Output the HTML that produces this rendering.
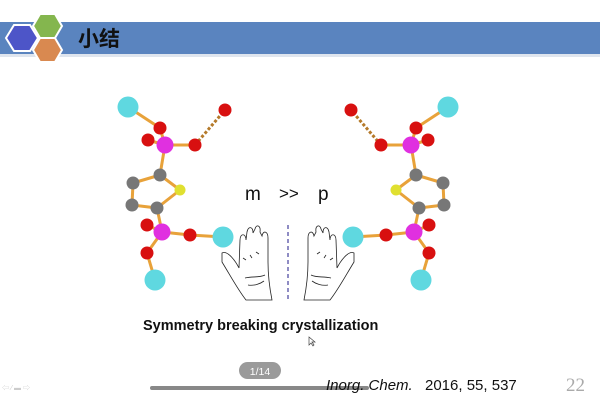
<!DOCTYPE html>
<html><head><meta charset="utf-8"><style>
body{margin:0;width:600px;height:400px;background:#fff;overflow:hidden;font-family:"Liberation Sans","Noto Sans CJK SC",sans-serif}
</style></head><body>
<svg width="600" height="400" viewBox="0 0 600 400" xmlns="http://www.w3.org/2000/svg">
<rect x="0" y="22" width="600" height="32" fill="#5a84bf"/>
<rect x="0" y="54" width="600" height="3" fill="#dfe5ee"/>
<polygon points="6,38 14,25 30,25 38,38 30,51 14,51" fill="#4d55c8" stroke="#fff" stroke-width="2"/>
<polygon points="33,26 40,14 55,14 62,26 55,38 40,38" fill="#84b64e" stroke="#fff" stroke-width="2"/>
<polygon points="33,50 40,38 55,38 62,50 55,62 40,62" fill="#d98950" stroke="#fff" stroke-width="2"/>
<text x="78" y="46" font-size="21" font-weight="bold" fill="#111" font-family="Liberation Sans,Noto Sans CJK SC,sans-serif">小结</text>

<g id="mol" stroke="#e8a23a" stroke-width="3" fill="none">
<line x1="128" y1="107" x2="160" y2="128"/><line x1="160" y1="128" x2="165" y2="145"/><line x1="148" y1="140" x2="165" y2="145"/><line x1="165" y1="145" x2="195" y2="145"/>
<line x1="195" y1="145" x2="225" y2="110" stroke-dasharray="3,2" stroke="#b57a2a"/>
<line x1="165" y1="145" x2="160" y2="175"/><line x1="160" y1="175" x2="133" y2="183"/><line x1="160" y1="175" x2="180" y2="190"/><line x1="133" y1="183" x2="132" y2="205"/><line x1="132" y1="205" x2="157" y2="208"/><line x1="180" y1="190" x2="157" y2="208"/>
<line x1="157" y1="208" x2="162" y2="232"/><line x1="147" y1="225" x2="162" y2="232"/><line x1="162" y1="232" x2="190" y2="235"/><line x1="190" y1="235" x2="223" y2="237"/><line x1="162" y1="232" x2="147" y2="253"/><line x1="147" y1="253" x2="155" y2="280"/>
</g>
<g id="atoms">
<circle cx="128" cy="107" r="10.5" fill="#5fd8e0"/>
<circle cx="160" cy="128" r="6.5" fill="#d81010"/><circle cx="148" cy="140" r="6.5" fill="#d81010"/>
<circle cx="165" cy="145" r="8.5" fill="#e030e0"/><circle cx="195" cy="145" r="6.5" fill="#d81010"/><circle cx="225" cy="110" r="6.5" fill="#d81010"/>
<circle cx="160" cy="175" r="6.5" fill="#777"/><circle cx="133" cy="183" r="6.5" fill="#777"/><circle cx="180" cy="190" r="5.5" fill="#e0e030"/><circle cx="132" cy="205" r="6.5" fill="#777"/><circle cx="157" cy="208" r="6.5" fill="#777"/>
<circle cx="147" cy="225" r="6.5" fill="#d81010"/><circle cx="162" cy="232" r="8.5" fill="#e030e0"/><circle cx="190" cy="235" r="6.5" fill="#d81010"/><circle cx="223" cy="237" r="10.5" fill="#5fd8e0"/><circle cx="147" cy="253" r="6.5" fill="#d81010"/><circle cx="155" cy="280" r="10.5" fill="#5fd8e0"/>
</g>
<g transform="translate(576,0) scale(-1,1)"><use href="#mol"/><use href="#atoms"/></g>

<text x="245" y="200" font-size="19" fill="#111">m</text>
<text x="279" y="199" font-size="17" fill="#111">&gt;&gt;</text>
<text x="318" y="200" font-size="19" fill="#111">p</text>
<line x1="288" y1="225" x2="288" y2="300" stroke="#6a66b0" stroke-width="1.5" stroke-dasharray="4,3"/>
<g id="hand" fill="none" stroke="#222" stroke-width="0.8">
<path d="M222,253 C228,250 236,262 239,268 L240,240 C240,233 246,233 246,240 L247,232 C248,226 253,226 253,233 L255,229 C256,224 261,225 260,232 L262,236 C263,230 268,231 268,238 L268,262 C268,278 270,290 272,300 L246,300 C238,290 230,275 222,262 Z"/>
<path d="M243,258 l3,2 M250,255 l2,3 M256,252 l3,2 M245,278 c8,-2 14,0 20,-3 M248,285 c6,1 12,-1 16,-4"/>
</g>
<g transform="translate(576,0) scale(-1,1)"><use href="#hand"/></g>

<text x="143" y="330" font-size="14.5" font-weight="bold" fill="#111">Symmetry breaking crystallization</text>
<path d="M309,337 l0,8 l2,-2 l2,3 l1,-1 l-2,-3 l3,0 z" fill="#fff" stroke="#444" stroke-width="0.7"/>
<rect x="239" y="362" width="42" height="17" rx="8.5" fill="#9a9a9a"/>
<text x="260" y="375" font-size="10.5" fill="#fff" text-anchor="middle">1/14</text>
<rect x="150" y="386" width="219" height="4" rx="2" fill="#888"/>
<text x="326" y="390" font-size="15" font-style="italic" fill="#111">Inorg. Chem.</text>
<text x="425" y="390" font-size="15" fill="#111">2016, 55, 537</text>
<text x="566" y="391" font-size="19" fill="#aaa" font-family="Liberation Serif,serif">22</text>
<text x="2" y="390" font-size="7" fill="#ccc">⇦ ⁄ ▬ ⇨</text>
</svg>
</body></html>
